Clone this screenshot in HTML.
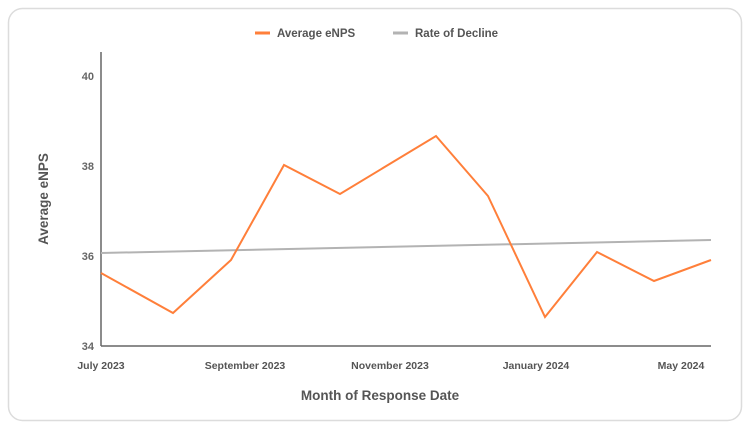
<!DOCTYPE html>
<html><head><meta charset="utf-8"><style>
html,body{margin:0;padding:0;background:#fff;}
body{width:750px;height:429px;overflow:hidden;font-family:"Liberation Sans",sans-serif;}
</style></head><body>
<svg width="750" height="429" xmlns="http://www.w3.org/2000/svg" font-family="Liberation Sans, sans-serif">
<rect x="8.5" y="8.5" width="733" height="412" rx="14" fill="#fff" stroke="#dcdcdc" stroke-width="1.5"/>
<line x1="255" y1="33" x2="270" y2="33" stroke="#ff7f3a" stroke-width="3"/>
<text x="277" y="37" font-size="11.5" font-weight="bold" fill="#555">Average eNPS</text>
<line x1="393" y1="33" x2="408" y2="33" stroke="#b3b3b3" stroke-width="3"/>
<text x="415" y="37" font-size="11.5" font-weight="bold" fill="#555">Rate of Decline</text>
<line x1="101" y1="52" x2="101" y2="346" stroke="#666" stroke-width="1.5"/>
<line x1="101" y1="346" x2="711" y2="346" stroke="#666" stroke-width="1.5"/>
<g font-size="11" font-weight="bold" fill="#666" text-anchor="end">
<text x="94" y="80">40</text><text x="94" y="170">38</text><text x="94" y="260">36</text><text x="94" y="350">34</text>
</g>
<g font-size="10.5" font-weight="bold" fill="#555" text-anchor="middle">
<text x="101" y="369">July 2023</text><text x="245" y="369">September 2023</text><text x="390" y="369">November 2023</text><text x="536" y="369">January 2024</text><text x="681" y="369">May 2024</text>
</g>
<text x="380" y="400" font-size="13.5" font-weight="bold" fill="#555" text-anchor="middle">Month of Response Date</text>
<text transform="translate(48,199) rotate(-90)" font-size="13.5" font-weight="bold" fill="#555" text-anchor="middle">Average eNPS</text>
<line x1="101" y1="253" x2="711" y2="240" stroke="#b3b3b3" stroke-width="2"/>
<polyline fill="none" stroke="#ff7f3a" stroke-width="2" stroke-linejoin="miter" points="101,273 173,313 231,260 284,165 340,194 436,136 488,196 545,317 597,252 654,281 711,260"/>
</svg>
</body></html>
